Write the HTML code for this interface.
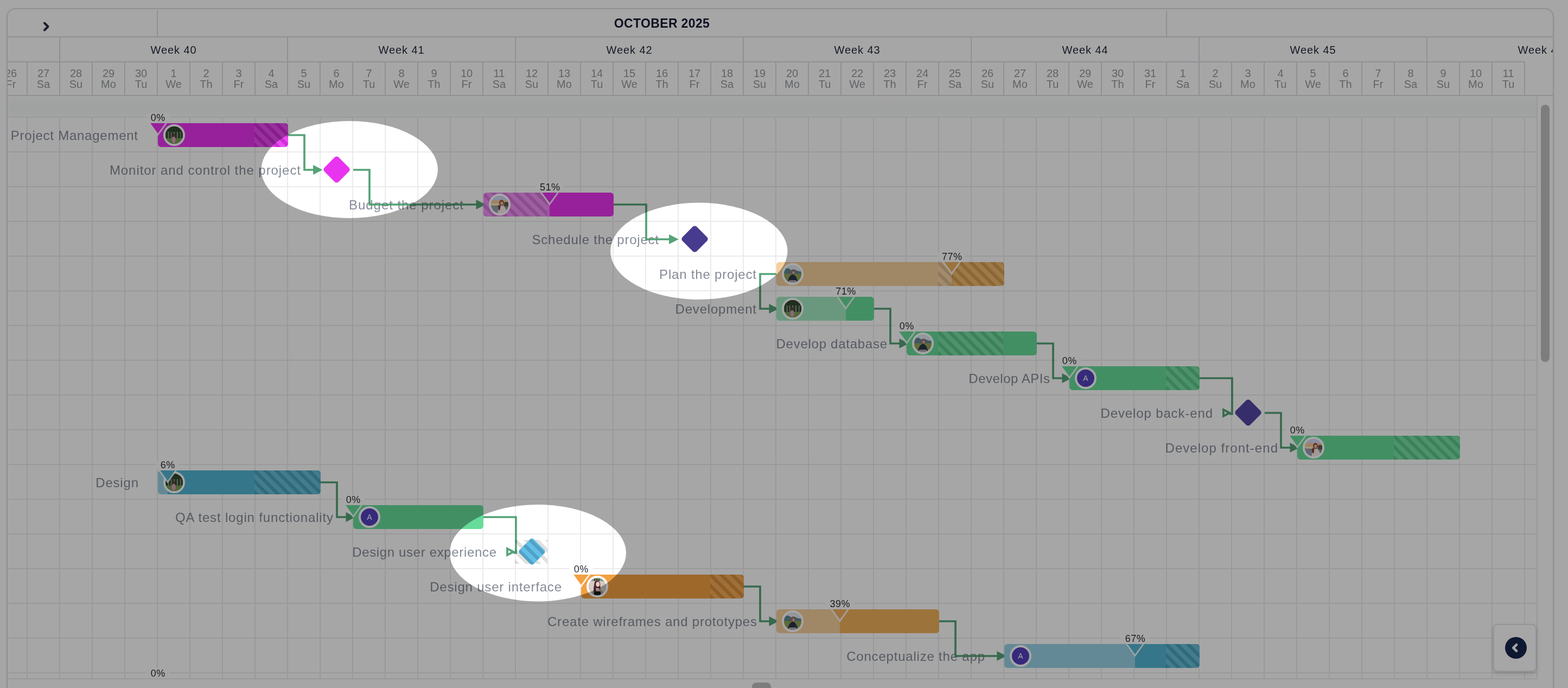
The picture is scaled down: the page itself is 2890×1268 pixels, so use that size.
<!DOCTYPE html>
<html lang="en">
<head>
<meta charset="utf-8">
<title>Gantt chart</title>
<style>
*{box-sizing:border-box;margin:0;padding:0}
html,body{width:2890px;height:1268px;background:#fff}
body{font-family:"Liberation Sans",sans-serif;}
#root{position:relative;width:2890px;height:1268px;overflow:hidden;background:#fff}
.abs{position:absolute}
#frame{position:absolute;left:12px;top:15px;width:2852px;height:1400px;border:2px solid #dcdee3;border-radius:16px;background:#fff;box-shadow:0 1px 4px rgba(0,0,0,.06)}
.hl{position:absolute;background:#dcdee3}
#grid{position:absolute;left:14px;top:215px;width:2820px;height:1037px;overflow:hidden;
 background-image:linear-gradient(90deg,#ebebed 2px,transparent 2px),linear-gradient(180deg,#ebebed 2px,transparent 2px);
 background-size:60px 64px,60px 64px;background-position:35px 0,0 0;border-right:2px solid #ebebed;border-bottom:2px solid #ebebed}
#band{position:absolute;left:14px;top:177px;width:2818px;height:38px;background:linear-gradient(180deg,#fdfdfd 0,#f6f9f8 35%,#f6f9f8 70%,#fafbfb 100%)}
.month{position:absolute;top:18px;height:50px;line-height:50px;text-align:center;font-weight:700;font-size:23px;letter-spacing:.35px;color:#141a33;white-space:nowrap}
.week{position:absolute;top:69px;height:44px;line-height:47px;text-align:center;font-size:20px;letter-spacing:.9px;color:#1e2538;white-space:nowrap}
.dayc{position:absolute;top:115px;width:60px;height:60px;text-align:center;font-size:20px;line-height:20px;color:#95989d;padding-top:10px;white-space:nowrap}
.lbl{position:absolute;height:44px;line-height:45px;font-size:24px;color:#858b97;white-space:nowrap;text-align:right}
.bar{position:absolute;height:44px;border-radius:6px;overflow:hidden}
.bar i{position:absolute;top:0;bottom:0;display:block}
.done{background:rgba(255,255,255,.4)}
.wk{background:repeating-linear-gradient(45deg,rgba(0,0,0,.1) 0 6px,rgba(255,255,255,.12) 6px 14.14px)}
.av{position:absolute;width:40px;height:40px;border-radius:50%;border:4px solid #fff;overflow:hidden;background:#888}
.av svg{display:block;width:32px;height:32px}
.avA{background:#5441bd;color:#fff;font-size:14px;font-weight:400;text-align:center;line-height:32px}
.pct{position:absolute;height:18px;line-height:18px;font-size:18px;letter-spacing:.5px;text-indent:.5px;color:#2b2c31;text-align:center;background:rgba(255,255,255,.85);border-radius:9px;white-space:nowrap}
.ms{position:absolute;width:37px;height:37px;border-radius:5px;transform:rotate(45deg)}
svg.ov{position:absolute;left:0;top:0}
#card{position:absolute;left:2752px;top:1150px;width:80px;height:88px;background:#fff;border:2px solid #e4e5e9;border-radius:8px;box-shadow:0 4px 8px rgba(0,0,0,.12),0 1px 3px rgba(0,0,0,.08)}
#card b{position:absolute;left:20px;top:22px;width:40px;height:40px;border-radius:50%;background:#16254f;display:block}
</style>
</head>
<body>
<div id="root">
<div id="frame"></div>

<div id="hdr">
<div class="hl" style="left:289px;top:19px;width:2px;height:48px"></div>
<div class="hl" style="left:2149px;top:19px;width:2px;height:48px"></div>
<div class="hl" style="left:14px;top:67px;width:2848px;height:2px"></div>
<div class="month" style="left:290px;width:1860px">OCTOBER 2025</div>
<svg class="abs" style="left:76px;top:38px" width="20" height="22" viewBox="0 0 20 22"><path d="M6 4.5 L12.5 11 L6 17.5" fill="none" stroke="#2a3045" stroke-width="4" stroke-linecap="round" stroke-linejoin="round"/></svg>
<div class="abs" style="left:14px;top:69px;width:2848px;height:46px;overflow:hidden">
<div class="hl" style="left:95px;top:0;width:2px;height:46px"></div>
<div class="week" style="left:96px;top:0;width:420px">Week 40</div>
<div class="hl" style="left:515px;top:0;width:2px;height:46px"></div>
<div class="week" style="left:516px;top:0;width:420px">Week 41</div>
<div class="hl" style="left:935px;top:0;width:2px;height:46px"></div>
<div class="week" style="left:936px;top:0;width:420px">Week 42</div>
<div class="hl" style="left:1355px;top:0;width:2px;height:46px"></div>
<div class="week" style="left:1356px;top:0;width:420px">Week 43</div>
<div class="hl" style="left:1775px;top:0;width:2px;height:46px"></div>
<div class="week" style="left:1776px;top:0;width:420px">Week 44</div>
<div class="hl" style="left:2195px;top:0;width:2px;height:46px"></div>
<div class="week" style="left:2196px;top:0;width:420px">Week 45</div>
<div class="hl" style="left:2615px;top:0;width:2px;height:46px"></div>
<div class="week" style="left:2616px;top:0;width:420px">Week 46</div>
</div>
<div class="hl" style="left:14px;top:113px;width:2797px;height:2px"></div>
<div class="abs" style="left:14px;top:0;width:2848px;height:177px;overflow:hidden">
<div class="dayc" style="left:-24px">26<br>Fr</div>
<div class="hl" style="left:35px;top:115px;width:2px;height:60px"></div>
<div class="dayc" style="left:36px">27<br>Sa</div>
<div class="hl" style="left:95px;top:115px;width:2px;height:60px"></div>
<div class="dayc" style="left:96px">28<br>Su</div>
<div class="hl" style="left:155px;top:115px;width:2px;height:60px"></div>
<div class="dayc" style="left:156px">29<br>Mo</div>
<div class="hl" style="left:215px;top:115px;width:2px;height:60px"></div>
<div class="dayc" style="left:216px">30<br>Tu</div>
<div class="hl" style="left:275px;top:115px;width:2px;height:60px"></div>
<div class="dayc" style="left:276px">1<br>We</div>
<div class="hl" style="left:335px;top:115px;width:2px;height:60px"></div>
<div class="dayc" style="left:336px">2<br>Th</div>
<div class="hl" style="left:395px;top:115px;width:2px;height:60px"></div>
<div class="dayc" style="left:396px">3<br>Fr</div>
<div class="hl" style="left:455px;top:115px;width:2px;height:60px"></div>
<div class="dayc" style="left:456px">4<br>Sa</div>
<div class="hl" style="left:515px;top:115px;width:2px;height:60px"></div>
<div class="dayc" style="left:516px">5<br>Su</div>
<div class="hl" style="left:575px;top:115px;width:2px;height:60px"></div>
<div class="dayc" style="left:576px">6<br>Mo</div>
<div class="hl" style="left:635px;top:115px;width:2px;height:60px"></div>
<div class="dayc" style="left:636px">7<br>Tu</div>
<div class="hl" style="left:695px;top:115px;width:2px;height:60px"></div>
<div class="dayc" style="left:696px">8<br>We</div>
<div class="hl" style="left:755px;top:115px;width:2px;height:60px"></div>
<div class="dayc" style="left:756px">9<br>Th</div>
<div class="hl" style="left:815px;top:115px;width:2px;height:60px"></div>
<div class="dayc" style="left:816px">10<br>Fr</div>
<div class="hl" style="left:875px;top:115px;width:2px;height:60px"></div>
<div class="dayc" style="left:876px">11<br>Sa</div>
<div class="hl" style="left:935px;top:115px;width:2px;height:60px"></div>
<div class="dayc" style="left:936px">12<br>Su</div>
<div class="hl" style="left:995px;top:115px;width:2px;height:60px"></div>
<div class="dayc" style="left:996px">13<br>Mo</div>
<div class="hl" style="left:1055px;top:115px;width:2px;height:60px"></div>
<div class="dayc" style="left:1056px">14<br>Tu</div>
<div class="hl" style="left:1115px;top:115px;width:2px;height:60px"></div>
<div class="dayc" style="left:1116px">15<br>We</div>
<div class="hl" style="left:1175px;top:115px;width:2px;height:60px"></div>
<div class="dayc" style="left:1176px">16<br>Th</div>
<div class="hl" style="left:1235px;top:115px;width:2px;height:60px"></div>
<div class="dayc" style="left:1236px">17<br>Fr</div>
<div class="hl" style="left:1295px;top:115px;width:2px;height:60px"></div>
<div class="dayc" style="left:1296px">18<br>Sa</div>
<div class="hl" style="left:1355px;top:115px;width:2px;height:60px"></div>
<div class="dayc" style="left:1356px">19<br>Su</div>
<div class="hl" style="left:1415px;top:115px;width:2px;height:60px"></div>
<div class="dayc" style="left:1416px">20<br>Mo</div>
<div class="hl" style="left:1475px;top:115px;width:2px;height:60px"></div>
<div class="dayc" style="left:1476px">21<br>Tu</div>
<div class="hl" style="left:1535px;top:115px;width:2px;height:60px"></div>
<div class="dayc" style="left:1536px">22<br>We</div>
<div class="hl" style="left:1595px;top:115px;width:2px;height:60px"></div>
<div class="dayc" style="left:1596px">23<br>Th</div>
<div class="hl" style="left:1655px;top:115px;width:2px;height:60px"></div>
<div class="dayc" style="left:1656px">24<br>Fr</div>
<div class="hl" style="left:1715px;top:115px;width:2px;height:60px"></div>
<div class="dayc" style="left:1716px">25<br>Sa</div>
<div class="hl" style="left:1775px;top:115px;width:2px;height:60px"></div>
<div class="dayc" style="left:1776px">26<br>Su</div>
<div class="hl" style="left:1835px;top:115px;width:2px;height:60px"></div>
<div class="dayc" style="left:1836px">27<br>Mo</div>
<div class="hl" style="left:1895px;top:115px;width:2px;height:60px"></div>
<div class="dayc" style="left:1896px">28<br>Tu</div>
<div class="hl" style="left:1955px;top:115px;width:2px;height:60px"></div>
<div class="dayc" style="left:1956px">29<br>We</div>
<div class="hl" style="left:2015px;top:115px;width:2px;height:60px"></div>
<div class="dayc" style="left:2016px">30<br>Th</div>
<div class="hl" style="left:2075px;top:115px;width:2px;height:60px"></div>
<div class="dayc" style="left:2076px">31<br>Fr</div>
<div class="hl" style="left:2135px;top:115px;width:2px;height:60px"></div>
<div class="dayc" style="left:2136px">1<br>Sa</div>
<div class="hl" style="left:2195px;top:115px;width:2px;height:60px"></div>
<div class="dayc" style="left:2196px">2<br>Su</div>
<div class="hl" style="left:2255px;top:115px;width:2px;height:60px"></div>
<div class="dayc" style="left:2256px">3<br>Mo</div>
<div class="hl" style="left:2315px;top:115px;width:2px;height:60px"></div>
<div class="dayc" style="left:2316px">4<br>Tu</div>
<div class="hl" style="left:2375px;top:115px;width:2px;height:60px"></div>
<div class="dayc" style="left:2376px">5<br>We</div>
<div class="hl" style="left:2435px;top:115px;width:2px;height:60px"></div>
<div class="dayc" style="left:2436px">6<br>Th</div>
<div class="hl" style="left:2495px;top:115px;width:2px;height:60px"></div>
<div class="dayc" style="left:2496px">7<br>Fr</div>
<div class="hl" style="left:2555px;top:115px;width:2px;height:60px"></div>
<div class="dayc" style="left:2556px">8<br>Sa</div>
<div class="hl" style="left:2615px;top:115px;width:2px;height:60px"></div>
<div class="dayc" style="left:2616px">9<br>Su</div>
<div class="hl" style="left:2675px;top:115px;width:2px;height:60px"></div>
<div class="dayc" style="left:2676px">10<br>Mo</div>
<div class="hl" style="left:2735px;top:115px;width:2px;height:60px"></div>
<div class="dayc" style="left:2736px">11<br>Tu</div>
<div class="hl" style="left:2795px;top:115px;width:2px;height:60px"></div>
</div>
<div class="hl" style="left:14px;top:175px;width:2848px;height:2px"></div>
</div>
<div id="band"></div>
<div id="grid"></div>
<div class="hl" style="left:2832px;top:177px;width:2px;height:40px;background:#ebebed"></div>
<div id="labels">
<div class="lbl" style="left:-346px;width:600px;top:227px;letter-spacing:0.75px"><span style="margin-right:-0.75px">Project Management</span></div>
<div class="lbl" style="left:-46px;width:600px;top:291px;letter-spacing:0.93px"><span style="margin-right:-0.93px">Monitor and control the project</span></div>
<div class="lbl" style="left:254px;width:600px;top:355px;letter-spacing:0.95px"><span style="margin-right:-0.95px">Budget the project</span></div>
<div class="lbl" style="left:614px;width:600px;top:419px;letter-spacing:0.77px"><span style="margin-right:-0.77px">Schedule the project</span></div>
<div class="lbl" style="left:794px;width:600px;top:483px;letter-spacing:0.81px"><span style="margin-right:-0.81px">Plan the project</span></div>
<div class="lbl" style="left:794px;width:600px;top:547px;letter-spacing:0.80px"><span style="margin-right:-0.80px">Development</span></div>
<div class="lbl" style="left:1035px;width:600px;top:611px;letter-spacing:0.73px"><span style="margin-right:-0.73px">Develop database</span></div>
<div class="lbl" style="left:1335px;width:600px;top:675px;letter-spacing:0.51px"><span style="margin-right:-0.51px">Develop APIs</span></div>
<div class="lbl" style="left:1635px;width:600px;top:739px;letter-spacing:0.87px"><span style="margin-right:-0.87px">Develop back-end</span></div>
<div class="lbl" style="left:1755px;width:600px;top:803px;letter-spacing:1.04px"><span style="margin-right:-1.04px">Develop front-end</span></div>
<div class="lbl" style="left:-345px;width:600px;top:867px;letter-spacing:0.80px"><span style="margin-right:-0.80px">Design</span></div>
<div class="lbl" style="left:14px;width:600px;top:931px;letter-spacing:0.83px"><span style="margin-right:-0.83px">QA test login functionality</span></div>
<div class="lbl" style="left:315px;width:600px;top:995px;letter-spacing:0.65px"><span style="margin-right:-0.65px">Design user experience</span></div>
<div class="lbl" style="left:435px;width:600px;top:1059px;letter-spacing:0.80px"><span style="margin-right:-0.80px">Design user interface</span></div>
<div class="lbl" style="left:795px;width:600px;top:1123px;letter-spacing:0.79px"><span style="margin-right:-0.79px">Create wireframes and prototypes</span></div>
<div class="lbl" style="left:1215px;width:600px;top:1187px;letter-spacing:0.80px"><span style="margin-right:-0.80px">Conceptualize the app</span></div>
</div>
<svg class="ov" width="2890" height="1268" viewBox="0 0 2890 1268"><g opacity="0.92">
<path d="M531,249 H561 V313 H590" fill="none" stroke="#479c6c" stroke-width="3.7" stroke-linejoin="miter"/><path fill="#479c6c" d="M577.1,304 L594.6,313 L577.1,322 Z"/>
<path d="M651,313 H681 V377 H890" fill="none" stroke="#479c6c" stroke-width="3.7" stroke-linejoin="miter"/><path fill="#479c6c" d="M877.5,368 L895,377 L877.5,386 Z"/>
<path d="M1131,377 H1191 V441 H1246" fill="none" stroke="#479c6c" stroke-width="3.7" stroke-linejoin="miter"/><path fill="#479c6c" d="M1233.1,432 L1250.6,441 L1233.1,450 Z"/>
<path d="M1431,505 H1401 V569 H1430" fill="none" stroke="#479c6c" stroke-width="3.7" stroke-linejoin="miter"/><path fill="#479c6c" d="M1417.5,560 L1435,569 L1417.5,578 Z"/>
<path d="M1611,569 H1641 V633 H1670" fill="none" stroke="#479c6c" stroke-width="3.7" stroke-linejoin="miter"/><path fill="#479c6c" d="M1657.5,624 L1675,633 L1657.5,642 Z"/>
<path d="M1911,633 H1941 V697 H1970" fill="none" stroke="#479c6c" stroke-width="3.7" stroke-linejoin="miter"/><path fill="#479c6c" d="M1957.5,688 L1975,697 L1957.5,706 Z"/>
<path d="M2211,697 H2270.9 V762.8 H2266" fill="none" stroke="#479c6c" stroke-width="3.7" stroke-linejoin="miter"/><path fill-rule="evenodd" fill="#479c6c" d="M2253.1,752 L2270.6,761 L2253.1,770 Z M2256.9,758 L2261.7,761 L2256.9,764 Z"/>
<path d="M2331,761 H2361 V825 H2390" fill="none" stroke="#479c6c" stroke-width="3.7" stroke-linejoin="miter"/><path fill="#479c6c" d="M2377.5,816 L2395,825 L2377.5,834 Z"/>
<path d="M591,889 H621 V953 H650" fill="none" stroke="#479c6c" stroke-width="3.7" stroke-linejoin="miter"/><path fill="#479c6c" d="M637.5,944 L655,953 L637.5,962 Z"/>
<path d="M891,953 H950.9 V1018.8 H946" fill="none" stroke="#479c6c" stroke-width="3.7" stroke-linejoin="miter"/><path fill-rule="evenodd" fill="#479c6c" d="M933.1,1008 L950.6,1017 L933.1,1026 Z M936.9,1014 L941.7,1017 L936.9,1020 Z"/>
<path d="M1371,1081 H1401 V1145 H1430" fill="none" stroke="#479c6c" stroke-width="3.7" stroke-linejoin="miter"/><path fill="#479c6c" d="M1417.5,1136 L1435,1145 L1417.5,1154 Z"/>
<path d="M1731,1145 H1761 V1209 H1850" fill="none" stroke="#479c6c" stroke-width="3.7" stroke-linejoin="miter"/><path fill="#479c6c" d="M1837.5,1200 L1855,1209 L1837.5,1218 Z"/>
</g></svg>
<svg width="0" height="0" style="position:absolute"><defs>
<filter id="soft" x="-10%" y="-10%" width="120%" height="120%"><feGaussianBlur stdDeviation="0.55"/></filter>
<symbol id="a-forest" viewBox="0 0 32 32"><rect width="32" height="32" fill="#3b5339"/><g filter="url(#soft)"><rect x="-2" y="-2" width="36" height="12" fill="#2f452f"/><rect x="-2" y="10" width="36" height="12" fill="#8a9c86"/><g fill="#33492f"><rect x="0.5" y="0" width="4" height="25"/><rect x="6.5" y="0" width="3.2" height="25"/><rect x="11.5" y="0" width="3.4" height="25"/><rect x="17.2" y="0" width="3.6" height="25"/><rect x="23" y="0" width="3.8" height="25"/><rect x="28.5" y="0" width="3.5" height="25"/></g><rect x="-2" y="22" width="36" height="12" fill="#7a9f58"/><ellipse cx="15.2" cy="24.5" rx="3.6" ry="6.5" fill="#d9a0b6"/><ellipse cx="15.6" cy="16.2" rx="2.4" ry="3" fill="#6a4237"/></g></symbol>
<symbol id="a-sunset" viewBox="0 0 32 32"><rect width="32" height="32" fill="#d6dcf6"/><g filter="url(#soft)"><rect x="-2" y="-2" width="36" height="11" fill="#d3d9f3"/><rect x="-2" y="8" width="36" height="7" fill="#f7c79a"/><rect x="-2" y="14" width="36" height="5" fill="#f6e7bd"/><rect x="-2" y="18" width="36" height="16" fill="#8d8a8a"/><path d="M-2 16 L13 21 L13 34 L-2 34Z" fill="#9a9fae"/><path d="M24 13 C27 10 30 11 34 13 L34 19 L24 19Z" fill="#5d5a50"/><ellipse cx="19.5" cy="13" rx="4.4" ry="5.8" fill="#8a4e37"/><ellipse cx="19.8" cy="13.6" rx="2.5" ry="3.2" fill="#f0c0a6"/><path d="M12.5 34 C12.5 22 16 18 20 18 C25.5 18 28.5 23 28.5 34Z" fill="#fbeaea"/><path d="M14.5 16 C12.5 21 13.5 26 16 27 L17.5 19Z" fill="#6e3c2c"/></g></symbol>
<symbol id="a-mountain" viewBox="0 0 32 32"><rect width="32" height="32" fill="#e3e9f1"/><g filter="url(#soft)"><path d="M-2 11 C4 4 9 4 13 9 C17 6 20 7 24 10 L34 12 L34 20 L-2 20Z" fill="#5f8794"/><rect x="-2" y="15.5" width="36" height="18.5" fill="#93a558"/><ellipse cx="16.5" cy="12.5" rx="4.2" ry="4.8" fill="#a8726a"/><ellipse cx="17.4" cy="13.5" rx="1.8" ry="2.2" fill="#ecc0a8"/><path d="M5.5 34 C8 24 11 17 16 17 C21 17 24 23 26.5 34Z" fill="#2b3449"/><rect x="9" y="27.5" width="14" height="6.5" fill="#b9afb6"/></g></symbol>
<symbol id="a-woman" viewBox="0 0 32 32"><rect width="32" height="32" fill="#d4ccc4"/><g filter="url(#soft)"><rect x="-2" y="-2" width="36" height="8" fill="#8f9483"/><g fill="#2b2d2a"><rect x="10" y="2" width="2.5" height="3.5"/><rect x="14" y="2" width="2.5" height="3.5"/><rect x="18" y="2" width="2" height="3.5"/></g><path d="M10.5 10 C10.5 4 20.5 4 21 10 L21.5 20 L13 27 L8.5 27Z" fill="#4a2530"/><ellipse cx="16.8" cy="11.8" rx="3.5" ry="4.5" fill="#f1cab9"/><path d="M5 34 C5 25 10 20.5 16 20.5 C23 20.5 28 25 28 34Z" fill="#aba098"/><path d="M9 34 L10 26 C14 24 19 24 22 26 L23 34Z" fill="#15161f"/><path d="M13.5 19 h6 v5.5 h-6z" fill="#f1cab9"/><path d="M10.5 12 C9 18 9 23 10 27 L13.5 26 L13 14Z" fill="#4a2530"/></g></symbol>
</defs></svg>
<div id="bars">
<div class="bar" style="left:291px;top:227px;width:240px;background:#e833ef">
<i class="wk" style="left:178px;width:62px"></i>
</div>
<div class="av" style="left:301px;top:229px"><svg viewBox="0 0 32 32"><use href="#a-forest"/></svg></div>
<svg class="abs" style="left:271.0px;top:225px" width="40" height="28" viewBox="-20 -2 40 28"><path d="M-14.5,0 H14.5 L0,20 Z" fill="#e833ef"/><path d="M-15.6,-0.2 L0,21.4 L15.6,-0.2" fill="none" stroke="rgba(255,255,255,.88)" stroke-width="2.8"/></svg>
<div class="pct" style="left:269.0px;top:208px;width:44px">0%</div>
<div class="ms" style="left:602px;top:294px;background-color:#e833ef"></div>
<div class="bar" style="left:891px;top:355px;width:240px;background:#e833ef">
<i class="done" style="left:0;width:122.4px"></i>
<i class="wk" style="left:-2px;width:120px"></i>
</div>
<div class="av" style="left:901px;top:357px"><svg viewBox="0 0 32 32"><use href="#a-sunset"/></svg></div>
<svg class="abs" style="left:993.4px;top:353px" width="40" height="28" viewBox="-20 -2 40 28"><path d="M-14.5,0 H14.5 L0,20 Z" fill="#e833ef"/><path d="M-15.6,-0.2 L0,21.4 L15.6,-0.2" fill="none" stroke="rgba(255,255,255,.88)" stroke-width="2.8"/></svg>
<div class="pct" style="left:986.4px;top:336px;width:54px">51%</div>
<div class="ms" style="left:1262px;top:422px;background-color:#463b8f"></div>
<div class="bar" style="left:1431px;top:483px;width:420px;background:#f1b15c">
<i class="done" style="left:0;width:323.4px"></i>
<i class="wk" style="left:298px;width:122px"></i>
</div>
<div class="av" style="left:1441px;top:485px"><svg viewBox="0 0 32 32"><use href="#a-mountain"/></svg></div>
<svg class="abs" style="left:1734.4px;top:481px" width="40" height="28" viewBox="-20 -2 40 28"><path d="M-14.5,0 H14.5 L0,20 Z" fill="#f1b15c"/><path d="M-15.6,-0.2 L0,21.4 L15.6,-0.2" fill="none" stroke="rgba(255,255,255,.88)" stroke-width="2.8"/></svg>
<div class="pct" style="left:1727.4px;top:464px;width:54px">77%</div>
<div class="bar" style="left:1431px;top:547px;width:180px;background:#67dc9a">
<i class="done" style="left:0;width:127.8px"></i>
</div>
<div class="av" style="left:1441px;top:549px"><svg viewBox="0 0 32 32"><use href="#a-forest"/></svg></div>
<svg class="abs" style="left:1538.8px;top:545px" width="40" height="28" viewBox="-20 -2 40 28"><path d="M-14.5,0 H14.5 L0,20 Z" fill="#67dc9a"/><path d="M-15.6,-0.2 L0,21.4 L15.6,-0.2" fill="none" stroke="rgba(255,255,255,.88)" stroke-width="2.8"/></svg>
<div class="pct" style="left:1531.8px;top:528px;width:54px">71%</div>
<div class="bar" style="left:1671px;top:611px;width:240px;background:#67dc9a">
<i class="wk" style="left:58px;width:120px"></i>
</div>
<div class="av" style="left:1681px;top:613px"><svg viewBox="0 0 32 32"><use href="#a-mountain"/></svg></div>
<svg class="abs" style="left:1651.0px;top:609px" width="40" height="28" viewBox="-20 -2 40 28"><path d="M-14.5,0 H14.5 L0,20 Z" fill="#67dc9a"/><path d="M-15.6,-0.2 L0,21.4 L15.6,-0.2" fill="none" stroke="rgba(255,255,255,.88)" stroke-width="2.8"/></svg>
<div class="pct" style="left:1649.0px;top:592px;width:44px">0%</div>
<div class="bar" style="left:1971px;top:675px;width:240px;background:#67dc9a">
<i class="wk" style="left:178px;width:62px"></i>
</div>
<div class="av avA" style="left:1981px;top:677px">A</div>
<svg class="abs" style="left:1951.0px;top:673px" width="40" height="28" viewBox="-20 -2 40 28"><path d="M-14.5,0 H14.5 L0,20 Z" fill="#67dc9a"/><path d="M-15.6,-0.2 L0,21.4 L15.6,-0.2" fill="none" stroke="rgba(255,255,255,.88)" stroke-width="2.8"/></svg>
<div class="pct" style="left:1949.0px;top:656px;width:44px">0%</div>
<div class="ms" style="left:2282px;top:742px;background-color:#5347a3"></div>
<div class="bar" style="left:2391px;top:803px;width:300px;background:#67dc9a">
<i class="wk" style="left:178px;width:122px"></i>
</div>
<div class="av" style="left:2401px;top:805px"><svg viewBox="0 0 32 32"><use href="#a-sunset"/></svg></div>
<svg class="abs" style="left:2371.0px;top:801px" width="40" height="28" viewBox="-20 -2 40 28"><path d="M-14.5,0 H14.5 L0,20 Z" fill="#67dc9a"/><path d="M-15.6,-0.2 L0,21.4 L15.6,-0.2" fill="none" stroke="rgba(255,255,255,.88)" stroke-width="2.8"/></svg>
<div class="pct" style="left:2369.0px;top:784px;width:44px">0%</div>
<div class="bar" style="left:291px;top:867px;width:300px;background:#52b6d4">
<i class="done" style="left:0;width:18.0px"></i>
<i class="wk" style="left:178px;width:122px"></i>
</div>
<div class="av" style="left:301px;top:869px"><svg viewBox="0 0 32 32"><use href="#a-forest"/></svg></div>
<svg class="abs" style="left:289.0px;top:865px" width="40" height="28" viewBox="-20 -2 40 28"><path d="M-14.5,0 H14.5 L0,20 Z" fill="#52b6d4"/><path d="M-15.6,-0.2 L0,21.4 L15.6,-0.2" fill="none" stroke="rgba(255,255,255,.88)" stroke-width="2.8"/></svg>
<div class="pct" style="left:287.0px;top:848px;width:44px">6%</div>
<div class="bar" style="left:651px;top:931px;width:240px;background:#67dc9a">
</div>
<div class="av avA" style="left:661px;top:933px">A</div>
<svg class="abs" style="left:631.0px;top:929px" width="40" height="28" viewBox="-20 -2 40 28"><path d="M-14.5,0 H14.5 L0,20 Z" fill="#67dc9a"/><path d="M-15.6,-0.2 L0,21.4 L15.6,-0.2" fill="none" stroke="rgba(255,255,255,.88)" stroke-width="2.8"/></svg>
<div class="pct" style="left:629.0px;top:912px;width:44px">0%</div>
<div class="bar" style="left:949px;top:995px;width:60px;border-radius:0"><i class="wk" style="left:0;right:0;background:repeating-linear-gradient(45deg,rgba(0,0,0,.12) 0 6px,rgba(255,255,255,0) 6px 14.14px)"></i></div>
<div class="ms" style="left:962px;top:998px;background-color:#5dbde6;background-image:repeating-linear-gradient(0deg,rgba(0,0,0,.14) 0 6px,rgba(255,255,255,.04) 6px 14.14px)"></div>
<div class="bar" style="left:1071px;top:1059px;width:300px;background:#f3a041">
<i class="wk" style="left:238px;width:62px"></i>
</div>
<div class="av" style="left:1081px;top:1061px"><svg viewBox="0 0 32 32"><use href="#a-woman"/></svg></div>
<svg class="abs" style="left:1051.0px;top:1057px" width="40" height="28" viewBox="-20 -2 40 28"><path d="M-14.5,0 H14.5 L0,20 Z" fill="#f3a041"/><path d="M-15.6,-0.2 L0,21.4 L15.6,-0.2" fill="none" stroke="rgba(255,255,255,.88)" stroke-width="2.8"/></svg>
<div class="pct" style="left:1049.0px;top:1040px;width:44px">0%</div>
<div class="bar" style="left:1431px;top:1123px;width:300px;background:#f1b15c">
<i class="done" style="left:0;width:117.0px"></i>
</div>
<div class="av" style="left:1441px;top:1125px"><svg viewBox="0 0 32 32"><use href="#a-mountain"/></svg></div>
<svg class="abs" style="left:1528.0px;top:1121px" width="40" height="28" viewBox="-20 -2 40 28"><path d="M-14.5,0 H14.5 L0,20 Z" fill="#f1b15c"/><path d="M-15.6,-0.2 L0,21.4 L15.6,-0.2" fill="none" stroke="rgba(255,255,255,.88)" stroke-width="2.8"/></svg>
<div class="pct" style="left:1521.0px;top:1104px;width:54px">39%</div>
<div class="bar" style="left:1851px;top:1187px;width:360px;background:#52b6d4">
<i class="done" style="left:0;width:241.2px"></i>
<i class="wk" style="left:298px;width:62px"></i>
</div>
<div class="av avA" style="left:1861px;top:1189px">A</div>
<svg class="abs" style="left:2072.2px;top:1185px" width="40" height="28" viewBox="-20 -2 40 28"><path d="M-14.5,0 H14.5 L0,20 Z" fill="#52b6d4"/><path d="M-15.6,-0.2 L0,21.4 L15.6,-0.2" fill="none" stroke="rgba(255,255,255,.88)" stroke-width="2.8"/></svg>
<div class="pct" style="left:2065.2px;top:1168px;width:54px">67%</div>
<div class="pct" style="left:269px;top:1232px;width:44px">0%</div>
</div>
<div id="card"><b></b><svg class="abs" style="left:28px;top:30px" width="22" height="24" viewBox="0 0 22 24"><path d="M13 6.3 L7.3 12 L13 17.7" fill="none" stroke="#fff" stroke-width="4.6" stroke-linecap="round" stroke-linejoin="round"/></svg></div>
<div class="abs" style="left:2840px;top:193px;width:16px;height:474px;border-radius:8px;background:#c1c1c1"></div>
<div class="abs" style="left:1386px;top:1258px;width:35px;height:16px;border-radius:8px;background:#c1c1c1"></div>
<svg class="ov" width="2890" height="1268" viewBox="0 0 2890 1268"><path fill="rgba(0,0,0,0.35)" fill-rule="evenodd" d="M0,0 H2890 V1268 H0 Z M481.59999999999997,312.5 a162.7,89.5 0 1,0 325.4,0 a162.7,89.5 0 1,0 -325.4,0 ZM1125.1,462.8 a163.2,89.2 0 1,0 326.4,0 a163.2,89.2 0 1,0 -326.4,0 ZM828.5999999999999,1019.2 a162.7,89.2 0 1,0 325.4,0 a162.7,89.2 0 1,0 -325.4,0 Z"/></svg>
</div>
</body>
</html>
